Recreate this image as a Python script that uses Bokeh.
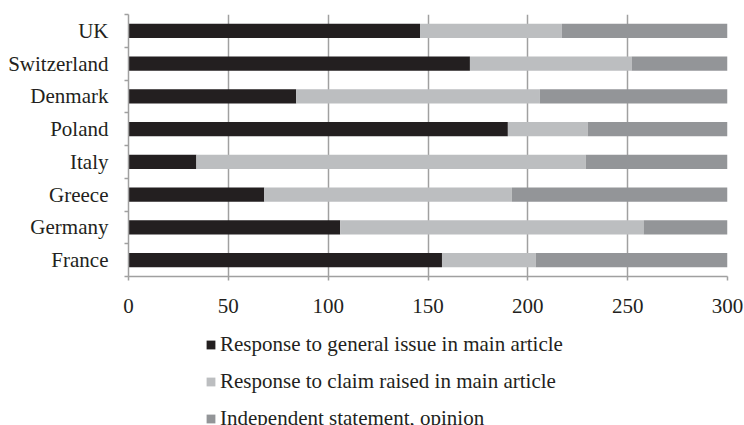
from bokeh.plotting import figure
from bokeh.layouts import column
from bokeh.models import ColumnDataSource, FixedTicker, Legend
from bokeh.embed import file_html
from bokeh.resources import INLINE

countries = ["France", "Germany", "Greece", "Italy", "Poland", "Denmark", "Switzerland", "UK"]
general_issue = [157, 106, 68, 34, 190, 84, 171, 146]
claim_raised = [47, 152, 124, 195, 40, 122, 81, 71]
independent = [96, 42, 108, 71, 70, 94, 48, 83]
x_ticks = [0, 50, 100, 150, 200, 250, 300]
series_names = ["Response to general issue in main article",
                "Response to claim raised in main article",
                "Independent statement, opinion"]
colors = ["#231f20", "#bcbec0", "#939598"]

ypos = [i + 0.5 for i in range(len(countries))]
source = ColumnDataSource(dict(y=ypos, a=general_issue, b=claim_raised, c=independent))
stack_cols = ["a", "b", "c"]

FONT = "Liberation Serif"

p = figure(frame_width=599, frame_height=262, output_backend="svg", toolbar_location=None,
           x_range=(0, 300), y_range=(0, len(countries)),
           min_border_left=128, min_border_right=17, min_border_top=14,
           min_border_bottom=50)
p.outline_line_color = None
p.background_fill_color = "white"

p.hbar_stack(stack_cols, y="y", height=0.43, color=colors, line_color=None, source=source)

# grid
p.ygrid.grid_line_color = None
p.xgrid.ticker = FixedTicker(ticks=x_ticks[1:])
p.xgrid.grid_line_color = "#a0a0a0"
p.xgrid.grid_line_width = 1.5

# x axis
p.xaxis.ticker = FixedTicker(ticks=x_ticks)
p.xaxis.axis_line_color = "#a0a0a0"
p.xaxis.axis_line_width = 1.5
p.xaxis.major_tick_line_color = "#a0a0a0"
p.xaxis.major_tick_line_width = 1.5
p.xaxis.major_tick_out = 4
p.xaxis.major_tick_in = 0
p.xaxis.minor_tick_line_color = None
p.xaxis.major_label_text_font = FONT
p.xaxis.major_label_text_font_size = "21px"
p.xaxis.major_label_text_color = "#231f20"
p.xaxis.major_label_standoff = 18

# y axis
p.yaxis.ticker = FixedTicker(ticks=ypos, minor_ticks=list(range(len(countries) + 1)))
p.yaxis.major_label_overrides = {y: c for y, c in zip(ypos, countries)}
p.yaxis.axis_line_color = "#a0a0a0"
p.yaxis.axis_line_width = 1.5
p.yaxis.major_tick_line_color = None
p.yaxis.major_tick_out = 0
p.yaxis.major_tick_in = 0
p.yaxis.minor_tick_line_color = "#a0a0a0"
p.yaxis.minor_tick_line_width = 1.5
p.yaxis.minor_tick_out = 4
p.yaxis.minor_tick_in = 0
p.yaxis.major_label_text_font = FONT
p.yaxis.major_label_text_font_size = "21px"
p.yaxis.major_label_text_color = "#231f20"
p.yaxis.major_label_standoff = 16

# legend panel (separate figure below the chart)
lg = figure(width=744, height=110, output_backend="svg", toolbar_location=None,
            x_range=(0, 300), y_range=(100, 101),
            x_axis_type=None, y_axis_type=None,
            min_border_left=0, min_border_right=0, min_border_top=0, min_border_bottom=0)
lg.outline_line_color = None
lg.grid.visible = False
lr = lg.hbar_stack(stack_cols, y="y", height=0.43, color=colors, line_color=None, source=source)

legend = Legend(items=[(n, [rr]) for n, rr in zip(series_names, lr)],
                orientation="vertical", location=(77, 5))
legend.label_text_font = FONT
legend.label_text_font_size = "21px"
legend.label_text_color = "#231f20"
legend.glyph_width = 11
legend.glyph_height = 11
legend.label_height = 22
legend.spacing = 12
legend.label_standoff = 4
legend.border_line_color = None
legend.background_fill_alpha = 0
legend.padding = 0
legend.margin = 0
lg.add_layout(legend, "center")

layout = column(p, lg, spacing=0)
open("out.html", "w").write(file_html(layout, INLINE))
